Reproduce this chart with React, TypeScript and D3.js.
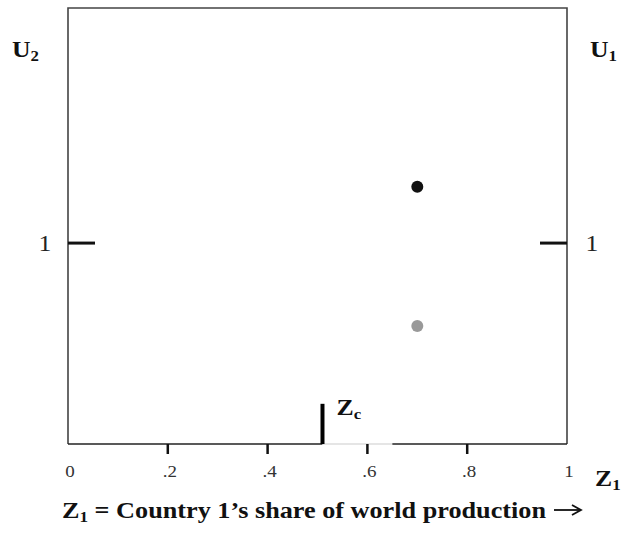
import React, { useEffect, useRef } from 'react';
import * as d3 from 'd3';

// Tick values on the Z1 axis and their labels
const xTicks = [0, 0.2, 0.4, 0.6, 0.8, 1];
const xTickLabels = ['0', '.2', '.4', '.6', '.8', '1'];

// Utility points at Z1 = .7
const points = [
  { z: 0.7, u: 1.28, color: '#111111' }, // U1
  { z: 0.7, u: 0.587, color: '#999999' }, // U2
];

// Critical share Zc and the light segment beyond it
const zc = 0.51;
const zGapEnd = 0.65;
const zcHeight = 0.2;

const FONT = '"Liberation Serif", "Times New Roman", serif';
const SX = 1.12; // reference text is a little wider than Times

export default function App() {
  const svgRef = useRef<SVGSVGElement>(null);

  useEffect(() => {
    if (!svgRef.current) return;
    const width = 622;
    const height = 535;
    const margin = { top: 8, right: 55, bottom: 91, left: 68 };
    const innerWidth = width - margin.left - margin.right;
    const innerHeight = height - margin.top - margin.bottom;

    d3.select(svgRef.current).selectAll('*').remove();
    const svg = d3.select(svgRef.current).attr('width', width).attr('height', height);
    const g = svg.append('g').attr('transform', `translate(${margin.left},${margin.top})`);

    const x = d3.scaleLinear().domain([0, 1]).range([0, innerWidth]);
    const y = d3.scaleLinear().domain([0, 2.17]).range([innerHeight, 0]);

    // places a text at (px, py) stretched horizontally around px
    const stretched = (parent: any, px: number, py: number, sx = SX) =>
      parent.append('text')
        .attr('transform', `translate(${px},${py}) scale(${sx},1)`)
        .style('font-family', FONT);

    // Frame: top, left, right
    g.append('path')
      .attr('d', `M0,${innerHeight}V0H${innerWidth}V${innerHeight}`)
      .attr('fill', 'none')
      .attr('stroke', '#444')
      .attr('stroke-width', 1.6);

    // Bottom axis line, broken by a light segment from Zc
    const segs: [number, number, string][] = [
      [0, zc, '#222'],
      [zc, zGapEnd, '#dddddd'],
      [zGapEnd, 1, '#222'],
    ];
    g.selectAll('.seg')
      .data(segs)
      .enter()
      .append('line')
      .attr('x1', d => x(d[0])).attr('x2', d => x(d[1]))
      .attr('y1', innerHeight).attr('y2', innerHeight)
      .attr('stroke', d => d[2]).attr('stroke-width', 1.6);

    // x ticks below the axis
    g.selectAll('.xtick')
      .data(xTicks.filter(t => t > 0 && t < 1))
      .enter()
      .append('line')
      .attr('x1', d => x(d)).attr('x2', d => x(d))
      .attr('y1', innerHeight).attr('y2', innerHeight + 10)
      .attr('stroke', '#111').attr('stroke-width', 2.5);

    xTicks.forEach((t, i) => {
      stretched(g, x(t) + 2, innerHeight + 33)
        .attr('text-anchor', 'middle')
        .style('font-size', '17px')
        .style('fill', '#333')
        .text(xTickLabels[i]);
    });

    // Zc marker
    g.append('line')
      .attr('x1', x(zc)).attr('x2', x(zc))
      .attr('y1', innerHeight).attr('y2', y(zcHeight))
      .attr('stroke', '#000').attr('stroke-width', 4);
    const zcText = stretched(g, x(zc) + 14, y(zcHeight) + 11)
      .style('font-size', '23px')
      .style('font-weight', 'bold')
      .style('fill', '#111');
    zcText.append('tspan').text('Z');
    zcText.append('tspan').attr('dy', 4).style('font-size', '15px').text('c');

    // y = 1 ticks on both sides
    [[0, 27], [innerWidth - 27, innerWidth]].forEach(([a, b]) => {
      g.append('line')
        .attr('x1', a).attr('x2', b)
        .attr('y1', y(1)).attr('y2', y(1))
        .attr('stroke', '#111').attr('stroke-width', 3);
    });
    [-23, innerWidth + 25].forEach(px => {
      stretched(g, px, y(1) + 8)
        .attr('text-anchor', 'middle')
        .style('font-size', '23px')
        .style('fill', '#222')
        .text('1');
    });

    // Points
    g.selectAll('.pt')
      .data(points)
      .enter()
      .append('circle')
      .attr('cx', d => x(d.z))
      .attr('cy', d => y(d.u))
      .attr('r', 6)
      .attr('fill', d => d.color);

    // U and Z labels
    const label = (px: number, py: number, main: string, sub: string) => {
      const t = stretched(svg, px, py)
        .style('font-size', '23px')
        .style('font-weight', 'bold')
        .style('fill', '#111');
      t.append('tspan').text(main);
      t.append('tspan').attr('dy', 4).style('font-size', '15px').text(sub);
      return t;
    };
    label(12, 57, 'U', '2');
    label(590, 57, 'U', '1');
    label(595, 486, 'Z', '1');

    // Title with a long drawn arrow after it
    const titleSX = 1.14;
    const title = stretched(svg, 62, 518, titleSX)
      .style('font-size', '23px')
      .style('font-weight', 'bold')
      .style('fill', '#111');
    title.append('tspan').text('Z');
    title.append('tspan').attr('dy', 4).style('font-size', '15px').text('1');
    title.append('tspan').attr('dy', -4).text(' = Country 1\u2019s share of world production');
    const tNode = title.node() as SVGTextElement;
    const tw = tNode.getComputedTextLength() * titleSX;
    const ax0 = 62 + tw + 8;
    const ax1 = ax0 + 27;
    const ay = 510;
    svg.append('line')
      .attr('x1', ax0).attr('x2', ax1 - 1)
      .attr('y1', ay).attr('y2', ay)
      .attr('stroke', '#111').attr('stroke-width', 1.8);
    svg.append('path')
      .attr('d', `M${ax1 - 9},${ay - 5} L${ax1},${ay} L${ax1 - 9},${ay + 5}`)
      .attr('fill', 'none')
      .attr('stroke', '#111')
      .attr('stroke-width', 1.8);
  }, []);

  return <svg ref={svgRef} style={{ position: 'absolute', left: 0, top: 0 }} />;
}
